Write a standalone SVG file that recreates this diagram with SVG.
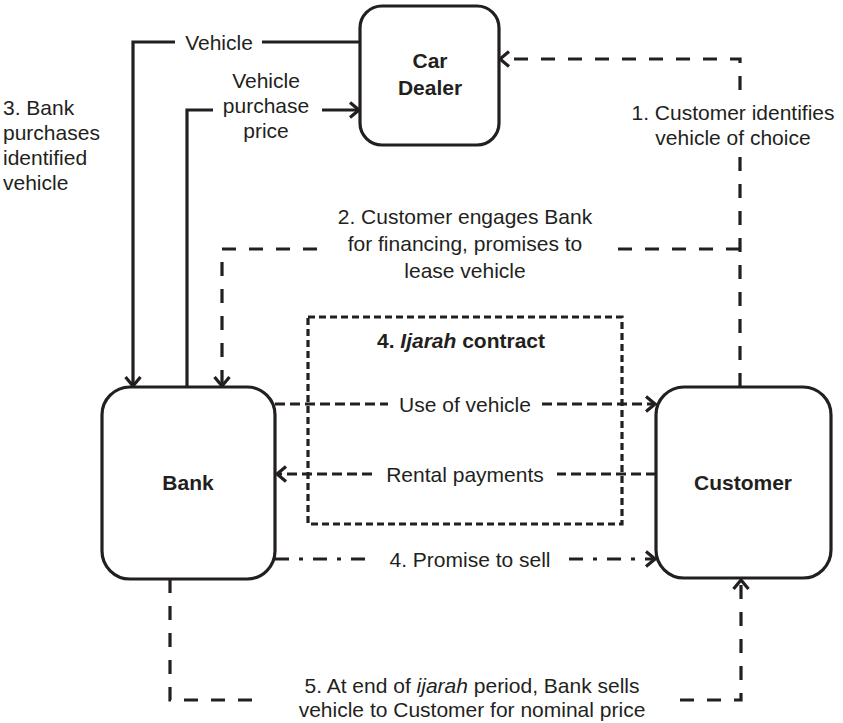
<svg xmlns="http://www.w3.org/2000/svg" width="843" height="723" viewBox="0 0 843 723">
  <style>
    .box { fill: #fff; stroke: #231f20; stroke-width: 3.2; }
    .t { font-family: "Liberation Sans", Arial, Helvetica, sans-serif; font-size: 21px; fill: #231f20; }
    .b { font-weight: bold; }
    .c { text-anchor: middle; }
    .ln { fill: none; stroke: #231f20; stroke-width: 3.2; stroke-linejoin: miter; }
    .dash { stroke-dasharray: 14 13; }
    .dash-s { stroke-dasharray: 10 5; }
    .dashdot { stroke-dasharray: 14 10 4 10; }
    .frame { fill: none; stroke: #231f20; stroke-width: 3.2; stroke-dasharray: 7 4; }
  </style>
  <defs>
    <marker id="arrow" viewBox="0 0 12 18" markerWidth="12" markerHeight="18" refX="10.5" refY="9" orient="auto" markerUnits="userSpaceOnUse">
      <path d="M1.5,1.5 L10.5,9 L1.5,16.5" fill="none" stroke="#231f20" stroke-width="3.2" stroke-linejoin="miter"/>
    </marker>
  </defs>

  <rect width="843" height="723" fill="#fff"/>

  <!-- Ijarah contract frame -->
  <g id="ijarah-contract">
    <rect class="frame" x="308" y="317" width="314" height="207"/>
    <text class="t b c" x="461" y="348">4. <tspan font-style="italic">Ijarah</tspan> contract</text>
  </g>

  <!-- connectors -->
  <g id="connectors">
    <!-- Vehicle: Car Dealer to Bank -->
    <path class="ln" d="M360,42 H262"/>
    <path class="ln" d="M175,42 H133 V386" marker-end="url(#arrow)"/>
    <text class="t c" x="219" y="50">Vehicle</text>

    <!-- Vehicle purchase price: Bank to Car Dealer -->
    <path class="ln" d="M187,387 V110 H213"/>
    <path class="ln" d="M322,110 H359" marker-end="url(#arrow)"/>
    <text class="t c" x="266" y="88">Vehicle</text>
    <text class="t c" x="266" y="113">purchase</text>
    <text class="t c" x="266" y="138">price</text>

    <!-- 1. Customer identifies vehicle -->
    <path class="ln dash" d="M740,387 V155"/>
    <path class="ln dash" d="M740,90 V59 H500" marker-end="url(#arrow)"/>
    <text class="t c" x="733" y="120">1. Customer identifies</text>
    <text class="t c" x="733" y="145">vehicle of choice</text>

    <!-- 2. Customer engages Bank -->
    <path class="ln dash" d="M740,249 H608"/>
    <path class="ln dash" d="M317,249 H222 V386" marker-end="url(#arrow)"/>
    <text class="t c" x="465" y="224">2. Customer engages Bank</text>
    <text class="t c" x="465" y="251">for financing, promises to</text>
    <text class="t c" x="465" y="278">lease vehicle</text>

    <!-- Use of vehicle -->
    <path class="ln dash-s" d="M275,404 H388"/>
    <path class="ln dash-s" d="M542,404 H655" marker-end="url(#arrow)"/>
    <text class="t c" x="465" y="412">Use of vehicle</text>

    <!-- Rental payments -->
    <path class="ln dash-s" d="M656,474 H557"/>
    <path class="ln dash-s" d="M372,474 H277" marker-end="url(#arrow)"/>
    <text class="t c" x="465" y="482">Rental payments</text>

    <!-- 4. Promise to sell -->
    <path class="ln dashdot" d="M275,559 H373"/>
    <path class="ln dashdot" d="M569,559 H655" marker-end="url(#arrow)"/>
    <text class="t c" x="470" y="567">4. Promise to sell</text>

    <!-- 5. Sale at end of period -->
    <path class="ln dash" d="M170,579 V700 H260"/>
    <path class="ln dash" d="M680,700 H741 V580" marker-end="url(#arrow)"/>
    <text class="t c" x="472" y="693">5. At end of <tspan font-style="italic">ijarah</tspan> period, Bank sells</text>
    <text class="t c" x="472" y="717">vehicle to Customer for nominal price</text>

    <!-- side note for step 3 -->
    <text class="t" x="3" y="115">3. Bank</text>
    <text class="t" x="3" y="140">purchases</text>
    <text class="t" x="3" y="165">identified</text>
    <text class="t" x="3" y="190">vehicle</text>
  </g>

  <!-- nodes -->
  <g id="car-dealer">
    <rect class="box" x="360" y="6" width="139" height="139" rx="22"/>
    <text class="t b c" x="430" y="68">Car</text>
    <text class="t b c" x="430" y="95">Dealer</text>
  </g>

  <g id="bank">
    <rect class="box" x="102" y="387" width="173" height="192" rx="28"/>
    <text class="t b c" x="188" y="490">Bank</text>
  </g>

  <g id="customer">
    <rect class="box" x="656" y="387" width="175" height="191" rx="28"/>
    <text class="t b c" x="743" y="490">Customer</text>
  </g>
</svg>
